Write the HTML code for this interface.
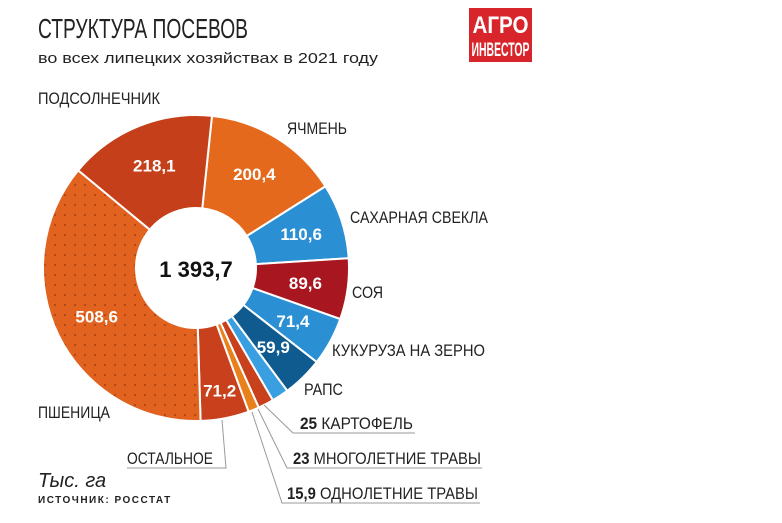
<!DOCTYPE html>
<html><head><meta charset="utf-8">
<style>
body{margin:0;background:#fff;width:782px;height:523px;overflow:hidden}
svg{display:block}
text{font-family:"Liberation Sans Narrow","Liberation Sans",sans-serif}
</style></head><body>
<svg id="c" width="782" height="523" viewBox="0 0 782 523">
<defs>
<pattern id="dots" width="10" height="10" patternUnits="userSpaceOnUse">
<rect width="10" height="10" fill="#e2631f"/><circle cx="5" cy="5" r="1.1" fill="#b04516"/>
</pattern>
</defs>
<text x="38" y="38" font-size="28" fill="#222" textLength="210" lengthAdjust="spacingAndGlyphs">СТРУКТУРА ПОСЕВОВ</text>
<text x="38" y="63" font-size="15" fill="#222" textLength="340" lengthAdjust="spacingAndGlyphs">во всех липецких хозяйствах в 2021 году</text>
<g>
<rect x="469" y="8" width="63" height="54" fill="#d7252b"/>
<text x="500.5" y="33" font-size="24" font-weight="bold" fill="#fff" text-anchor="middle" font-family="Liberation Serif,serif" textLength="56" lengthAdjust="spacingAndGlyphs">АГРО</text>
<text x="500.5" y="56" font-size="19" font-weight="bold" fill="#fff" text-anchor="middle" textLength="58" lengthAdjust="spacingAndGlyphs">ИНВЕСТОР</text>
</g>
<g id="pie"></g>
<text x="196" y="277" font-size="22" font-weight="bold" fill="#111" text-anchor="middle">1 393,7</text>
<g font-size="17" fill="#222">
<text x="38" y="104" textLength="122" lengthAdjust="spacingAndGlyphs">ПОДСОЛНЕЧНИК</text>
<text x="287" y="134" textLength="60" lengthAdjust="spacingAndGlyphs">ЯЧМЕНЬ</text>
<text x="350" y="223" textLength="138" lengthAdjust="spacingAndGlyphs">САХАРНАЯ СВЕКЛА</text>
<text x="352" y="298" textLength="31" lengthAdjust="spacingAndGlyphs">СОЯ</text>
<text x="332" y="356" textLength="153" lengthAdjust="spacingAndGlyphs">КУКУРУЗА НА ЗЕРНО</text>
<text x="304" y="395" textLength="39" lengthAdjust="spacingAndGlyphs">РАПС</text>
<text x="38" y="418" textLength="72" lengthAdjust="spacingAndGlyphs">ПШЕНИЦА</text>
<text x="300" y="429" textLength="113" lengthAdjust="spacingAndGlyphs"><tspan font-weight="bold">25</tspan> КАРТОФЕЛЬ</text>
<text x="293" y="464" textLength="188" lengthAdjust="spacingAndGlyphs"><tspan font-weight="bold">23</tspan> МНОГОЛЕТНИЕ ТРАВЫ</text>
<text x="287" y="499" textLength="191" lengthAdjust="spacingAndGlyphs"><tspan font-weight="bold">15,9</tspan> ОДНОЛЕТНИЕ ТРАВЫ</text>
<text x="127" y="464" textLength="86" lengthAdjust="spacingAndGlyphs">ОСТАЛЬНОЕ</text>
</g>
<g stroke="#999" fill="none" stroke-width="1">
<polyline points="222,420 226,468 127,468"/>
<polyline points="264,405 293,433 415,433"/>
<polyline points="258,409 287,468 482,468"/>
<polyline points="252,412 282,503 480,503"/>
</g>
<text x="38" y="487" font-size="20" font-style="italic" fill="#222" font-family="Liberation Serif,serif">Тыс. га</text>
<text x="38" y="503" font-size="10" font-weight="bold" fill="#222" letter-spacing="1.5">ИСТОЧНИК: РОССТАТ</text>
</svg>
<script>
const categories=["Ячмень","Сахарная свекла","Соя","Кукуруза на зерно","Рапс","Картофель","Многолетние травы","Однолетние травы","Остальное","Пшеница","Подсолнечник"];
const values=[200.4,110.6,89.6,71.4,59.9,25,23,15.9,71.2,508.6,218.1];
const valueLabels=["200,4","110,6","89,6","71,4","59,9","","","","71,2","508,6","218,1"];
const colors=["#e5691d","#2b8fd4","#a8161f","#2b8fd4","#0f5b8f","#3a9fe0","#c8401c","#e8801c","#c8401c","url(#dots)","#c63f1b"];
const cx=196,cy=268,R=153,r=60,start=6;
const total=values.reduce((a,b)=>a+b,0);
const g=document.getElementById('pie');
const ns="http://www.w3.org/2000/svg";
function pt(a,rad){const t=(a-90)*Math.PI/180;return [cx+rad*Math.cos(t),cy+rad*Math.sin(t)];}
let a=start;
values.forEach((v,i)=>{
  const sweep=v/total*360,b=a+sweep;
  const p1=pt(a,R),p2=pt(b,R),p3=pt(b,r),p4=pt(a,r),lg=sweep>180?1:0;
  const p=document.createElementNS(ns,'path');
  p.setAttribute('d',`M${p1}A${R},${R} 0 ${lg} 1 ${p2}L${p3}A${r},${r} 0 ${lg} 0 ${p4}Z`);
  p.setAttribute('fill',colors[i]);p.setAttribute('stroke','#fff');p.setAttribute('stroke-width','2');
  
  
  g.appendChild(p);
  if(valueLabels[i]){
    const m=pt((a+b)/2,(i==8)?125:(R+r)/2+4);
    const t=document.createElementNS(ns,'text');
    t.setAttribute('x',m[0]);t.setAttribute('y',m[1]+6);
    t.setAttribute('text-anchor','middle');t.setAttribute('font-size','17');t.setAttribute('font-weight','bold');t.setAttribute('fill','#fff');
    
    
    t.textContent=valueLabels[i];g.appendChild(t);
  }
  a=b;
});
</script>
</body></html>
